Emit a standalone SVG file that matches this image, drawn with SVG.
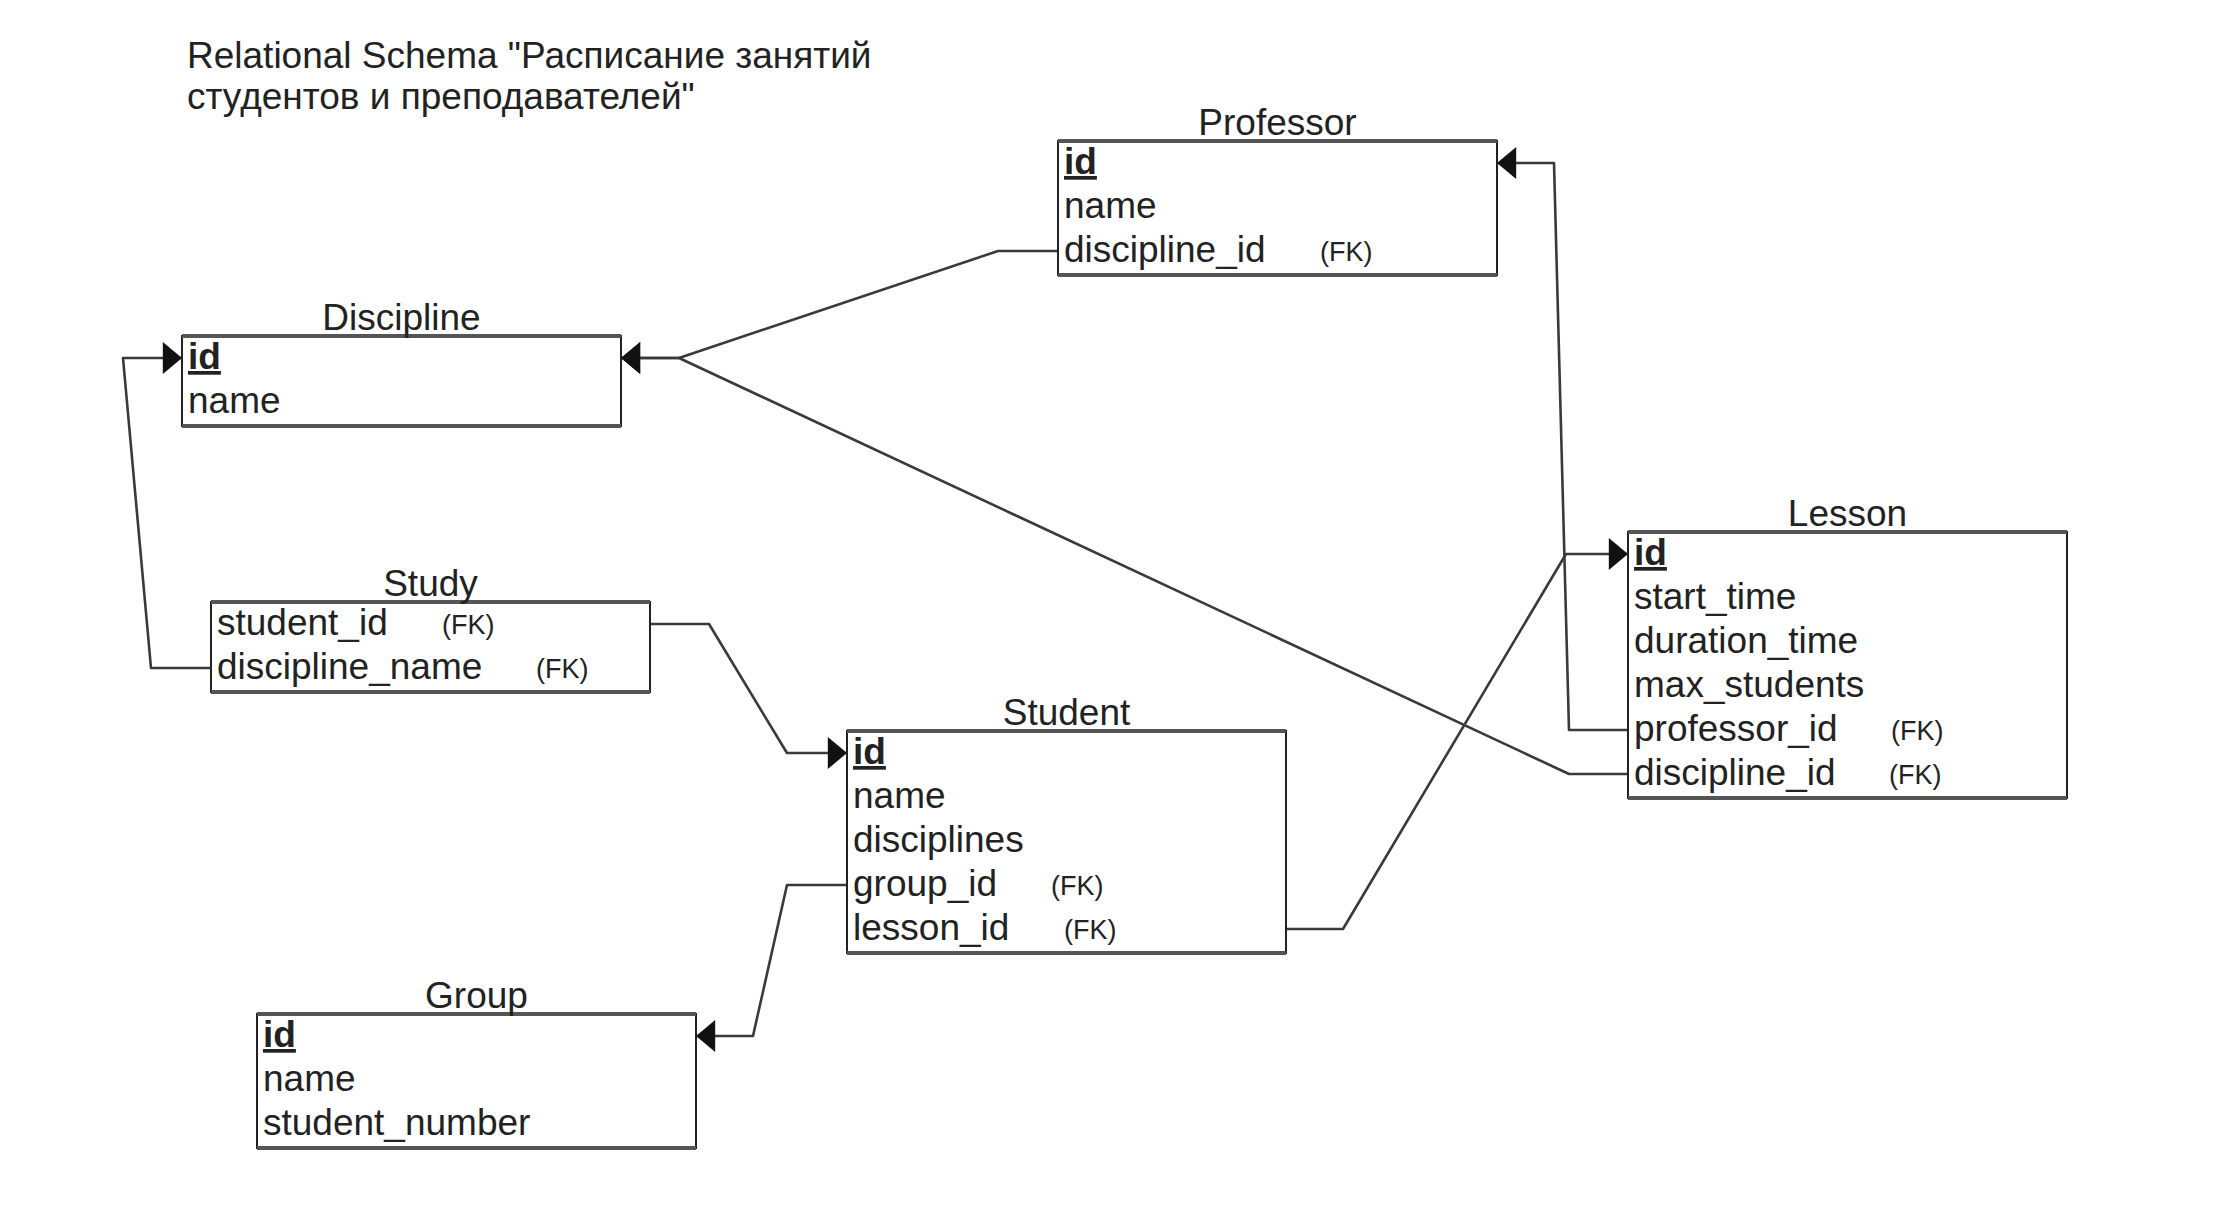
<svg xmlns="http://www.w3.org/2000/svg" width="2236" height="1222" viewBox="0 0 2236 1222">
<style>
.t{font-family:"Liberation Sans",Arial,Helvetica,sans-serif;font-size:37px;fill:#222}
.fk{font-size:27px}
.pk{font-weight:bold;text-decoration:underline}
.ttl{text-anchor:middle}
.box{fill:#fff;stroke:#222;stroke-width:2}
.edge{fill:none;stroke:#555;stroke-width:4}
.conn{fill:none;stroke:#3a3a3a;stroke-width:2.6;stroke-linejoin:round}
</style>
<defs>
<marker id="arr" markerUnits="userSpaceOnUse" markerWidth="20" markerHeight="32" viewBox="0 0 18 30" refX="18" refY="15" orient="auto">
<path d="M0,0 L18,15 L0,30 Z" fill="#111"/>
</marker>
</defs>
<rect width="2236" height="1222" fill="#fff"/>
<g id="title">
<text class="t" x="187" y="68" font-size="36">Relational Schema "Расписание занятий</text>
<text class="t" x="187" y="109" font-size="36">студентов и преподавателей"</text>
</g>
<g id="connectors">
<polyline class="conn" points="1058,251 998,251 679,358 621,358" marker-end="url(#arr)"/>
<polyline class="conn" points="1628,774 1569,774 679,358 621,358" marker-end="url(#arr)"/>
<polyline class="conn" points="211,668 151,668 123,358 182,358" marker-end="url(#arr)"/>
<polyline class="conn" points="650,624 709,624 787,753 847,753" marker-end="url(#arr)"/>
<polyline class="conn" points="847,885 787,885 753,1036 696,1036" marker-end="url(#arr)"/>
<polyline class="conn" points="1286,929 1343,929 1566,554 1628,554" marker-end="url(#arr)"/>
<polyline class="conn" points="1628,730 1569,730 1554,163 1497,163" marker-end="url(#arr)"/>
</g>
<g id="professor">
<rect class="box" x="1058" y="141" width="439" height="134"/>
<line class="edge" x1="1058" y1="141" x2="1497" y2="141"/><line class="edge" x1="1058" y1="275" x2="1497" y2="275"/>
<text class="t ttl" x="1277.5" y="135">Professor</text>
<text class="t pk" x="1064" y="174">id</text>
<text class="t" x="1064" y="218">name</text>
<text class="t" x="1064" y="262">discipline_id</text>
<text class="t fk" x="1320" y="261">(FK)</text>
</g>
<g id="discipline">
<rect class="box" x="182" y="336" width="439" height="90"/>
<line class="edge" x1="182" y1="336" x2="621" y2="336"/><line class="edge" x1="182" y1="426" x2="621" y2="426"/>
<text class="t ttl" x="401.5" y="330">Discipline</text>
<text class="t pk" x="188" y="369">id</text>
<text class="t" x="188" y="413">name</text>
</g>
<g id="study">
<rect class="box" x="211" y="602" width="439" height="90"/>
<line class="edge" x1="211" y1="602" x2="650" y2="602"/><line class="edge" x1="211" y1="692" x2="650" y2="692"/>
<text class="t ttl" x="430.5" y="596">Study</text>
<text class="t" x="217" y="635">student_id</text>
<text class="t fk" x="442" y="634">(FK)</text>
<text class="t" x="217" y="679">discipline_name</text>
<text class="t fk" x="536" y="678">(FK)</text>
</g>
<g id="student">
<rect class="box" x="847" y="731" width="439" height="222"/>
<line class="edge" x1="847" y1="731" x2="1286" y2="731"/><line class="edge" x1="847" y1="953" x2="1286" y2="953"/>
<text class="t ttl" x="1066.5" y="725">Student</text>
<text class="t pk" x="853" y="764">id</text>
<text class="t" x="853" y="808">name</text>
<text class="t" x="853" y="852">disciplines</text>
<text class="t" x="853" y="896">group_id</text>
<text class="t fk" x="1051" y="895">(FK)</text>
<text class="t" x="853" y="940">lesson_id</text>
<text class="t fk" x="1064" y="939">(FK)</text>
</g>
<g id="group">
<rect class="box" x="257" y="1014" width="439" height="134"/>
<line class="edge" x1="257" y1="1014" x2="696" y2="1014"/><line class="edge" x1="257" y1="1148" x2="696" y2="1148"/>
<text class="t ttl" x="476.5" y="1008">Group</text>
<text class="t pk" x="263" y="1047">id</text>
<text class="t" x="263" y="1091">name</text>
<text class="t" x="263" y="1135">student_number</text>
</g>
<g id="lesson">
<rect class="box" x="1628" y="532" width="439" height="266"/>
<line class="edge" x1="1628" y1="532" x2="2067" y2="532"/><line class="edge" x1="1628" y1="798" x2="2067" y2="798"/>
<text class="t ttl" x="1847.5" y="526">Lesson</text>
<text class="t pk" x="1634" y="565">id</text>
<text class="t" x="1634" y="609">start_time</text>
<text class="t" x="1634" y="653">duration_time</text>
<text class="t" x="1634" y="697">max_students</text>
<text class="t" x="1634" y="741">professor_id</text>
<text class="t fk" x="1891" y="740">(FK)</text>
<text class="t" x="1634" y="785">discipline_id</text>
<text class="t fk" x="1889" y="784">(FK)</text>
</g>
</svg>
